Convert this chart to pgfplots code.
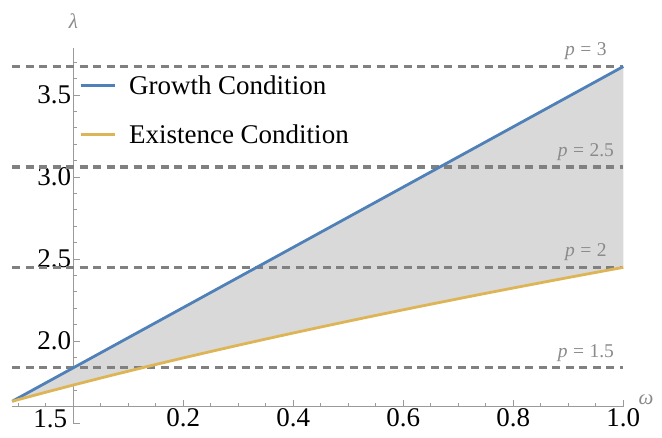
\documentclass[border=0pt]{standalone}
\usepackage{fontspec}
\setmainfont{Liberation Serif}
\usepackage{pgfplots}
\pgfplotsset{compat=1.18}
\definecolor{growth}{HTML}{5080B8}
\definecolor{exist}{HTML}{DEB556}
\definecolor{axisgray}{HTML}{9A9A9A}
\definecolor{dashgray}{HTML}{808080}
\definecolor{labgray}{HTML}{8A8A8A}
\definecolor{fillgray}{HTML}{D9D9D9}
\begin{document}
\begin{tikzpicture}
\begin{axis}[
  scale only axis, width=611.1bp, height=358.7bp,
  xmin=-0.1111, xmax=1.0, ymin=1.6, ymax=3.787,
  axis lines=middle,
  axis line style={-, draw=axisgray, line width=1.1bp},
  clip=false,
  xtick={0.2,0.4,0.6,0.8,1.0},
  minor xtick={-0.1,-0.05,0,0.05,0.1,0.15,0.25,0.3,0.35,0.45,0.5,0.55,0.65,0.7,0.75,0.85,0.9,0.95},
  ytick={2.0,2.5,3.0,3.5},
  minor ytick={1.7,1.8,1.9,2.1,2.2,2.3,2.4,2.6,2.7,2.8,2.9,3.1,3.2,3.3,3.4,3.6,3.7},
  tick align=inside, major tick length=7bp, minor tick length=4bp,
  tick style={draw=axisgray, line width=0.9bp},
  /pgf/number format/assume math mode=true,
  tick label style={font=\fontsize{27bp}{31bp}\selectfont, text=black, inner sep=2bp,
    /pgf/number format/fixed, /pgf/number format/fixed zerofill, /pgf/number format/precision=1},
  legend style={draw=none, fill=none, at={(axis cs:0.0104,3.707)}, anchor=north west,
    column sep=13bp, inner sep=0pt,
    font=\fontsize{27bp}{31bp}\selectfont, nodes={inner sep=0pt, minimum height=49bp}},
  legend cell align=left,
  legend image code/.code={\draw[#1] (0bp,0bp) -- (34bp,0bp);},
]
% shaded region between the two conditions
\addplot[fill=fillgray, draw=none, forget plot] coordinates {
(-0.1111,1.63299) (1.0,3.67423)
(1.0,2.44949) (0.95,2.41868) (0.9,2.38747) (0.85,2.35584) (0.8,2.32379) (0.75,2.29129)
(0.7,2.25832) (0.65,2.22486) (0.6,2.19089) (0.55,2.15639) (0.5,2.12132) (0.45,2.08567)
(0.4,2.04939) (0.35,2.01246) (0.3,1.97484) (0.25,1.93649) (0.2,1.89737) (0.15,1.85742)
(0.1,1.81659) (0.05,1.77482) (0,1.73205) (-0.05,1.68819) (-0.1,1.64317) (-0.1111,1.63299)};
% dashed levels
\addplot[dashgray, line width=3.2bp, dash pattern=on 8bp off 5.5bp, forget plot] coordinates {(-0.1111,1.83712) (1.0,1.83712)};
\addplot[dashgray, line width=3.2bp, dash pattern=on 8bp off 5.5bp, forget plot] coordinates {(-0.1111,2.44949) (1.0,2.44949)};
\addplot[dashgray, line width=3.2bp, dash pattern=on 8bp off 5.5bp, forget plot] coordinates {(-0.1111,3.06186) (1.0,3.06186)};
\addplot[dashgray, line width=3.2bp, dash pattern=on 8bp off 5.5bp, forget plot] coordinates {(-0.1111,3.67423) (1.0,3.67423)};
% conditions
\addplot[growth, line width=2.8bp] coordinates {(-0.1111,1.63299) (1.0,3.67423)};
\addlegendentry{Growth Condition}
\addplot[exist, line width=2.8bp] coordinates {
(-0.1111,1.63299) (-0.1,1.64317) (-0.05,1.68819) (0,1.73205) (0.05,1.77482) (0.1,1.81659)
(0.15,1.85742) (0.2,1.89737) (0.25,1.93649) (0.3,1.97484) (0.35,2.01246) (0.4,2.04939)
(0.45,2.08567) (0.5,2.12132) (0.55,2.15639) (0.6,2.19089) (0.65,2.22486) (0.7,2.25832)
(0.75,2.29129) (0.8,2.32379) (0.85,2.35584) (0.9,2.38747) (0.95,2.41868) (1.0,2.44949)};
\addlegendentry{Existence Condition}
% level labels
\node[labgray, font=\fontsize{19.5bp}{22bp}\selectfont, anchor=south, yshift=3bp] at (axis cs:0.932,3.67423) {\textit{p}\hspace{0.28em}=\hspace{0.28em}3};
\node[labgray, font=\fontsize{19.5bp}{22bp}\selectfont, anchor=south, yshift=3bp] at (axis cs:0.932,3.06186) {\textit{p}\hspace{0.28em}=\hspace{0.28em}2.5};
\node[labgray, font=\fontsize{19.5bp}{22bp}\selectfont, anchor=south, yshift=3bp] at (axis cs:0.932,2.44949) {\textit{p}\hspace{0.28em}=\hspace{0.28em}2};
\node[labgray, font=\fontsize{19.5bp}{22bp}\selectfont, anchor=south, yshift=3bp] at (axis cs:0.932,1.83712) {\textit{p}\hspace{0.28em}=\hspace{0.28em}1.5};
% axis labels
\node[labgray, font=\fontsize{21bp}{24bp}\selectfont, xshift=22.7bp, yshift=6.6bp] at (axis cs:1.0,1.6) {\textit{ω}};
\node[labgray, font=\fontsize{21bp}{24bp}\selectfont, yshift=27bp] at (axis cs:0,3.787) {\textit{λ}};
% axis extension to 1.5 with its tick and label
\draw[axisgray, line width=1.1bp] (axis cs:0,1.6) -- ++(0bp,-16.4bp) -- ++(7bp,0bp);
\node[anchor=east, font=\fontsize{27bp}{31bp}\selectfont, inner sep=0pt, xshift=-6bp, yshift=-12.4bp] at (axis cs:0,1.6) {1.5};
\end{axis}
\pgfresetboundingbox
\path[use as bounding box] ([shift={(-12.2bp,-30.4bp)}]current axis.south west) rectangle ([shift={(38.7bp,48bp)}]current axis.north east);
\end{tikzpicture}
\end{document}
